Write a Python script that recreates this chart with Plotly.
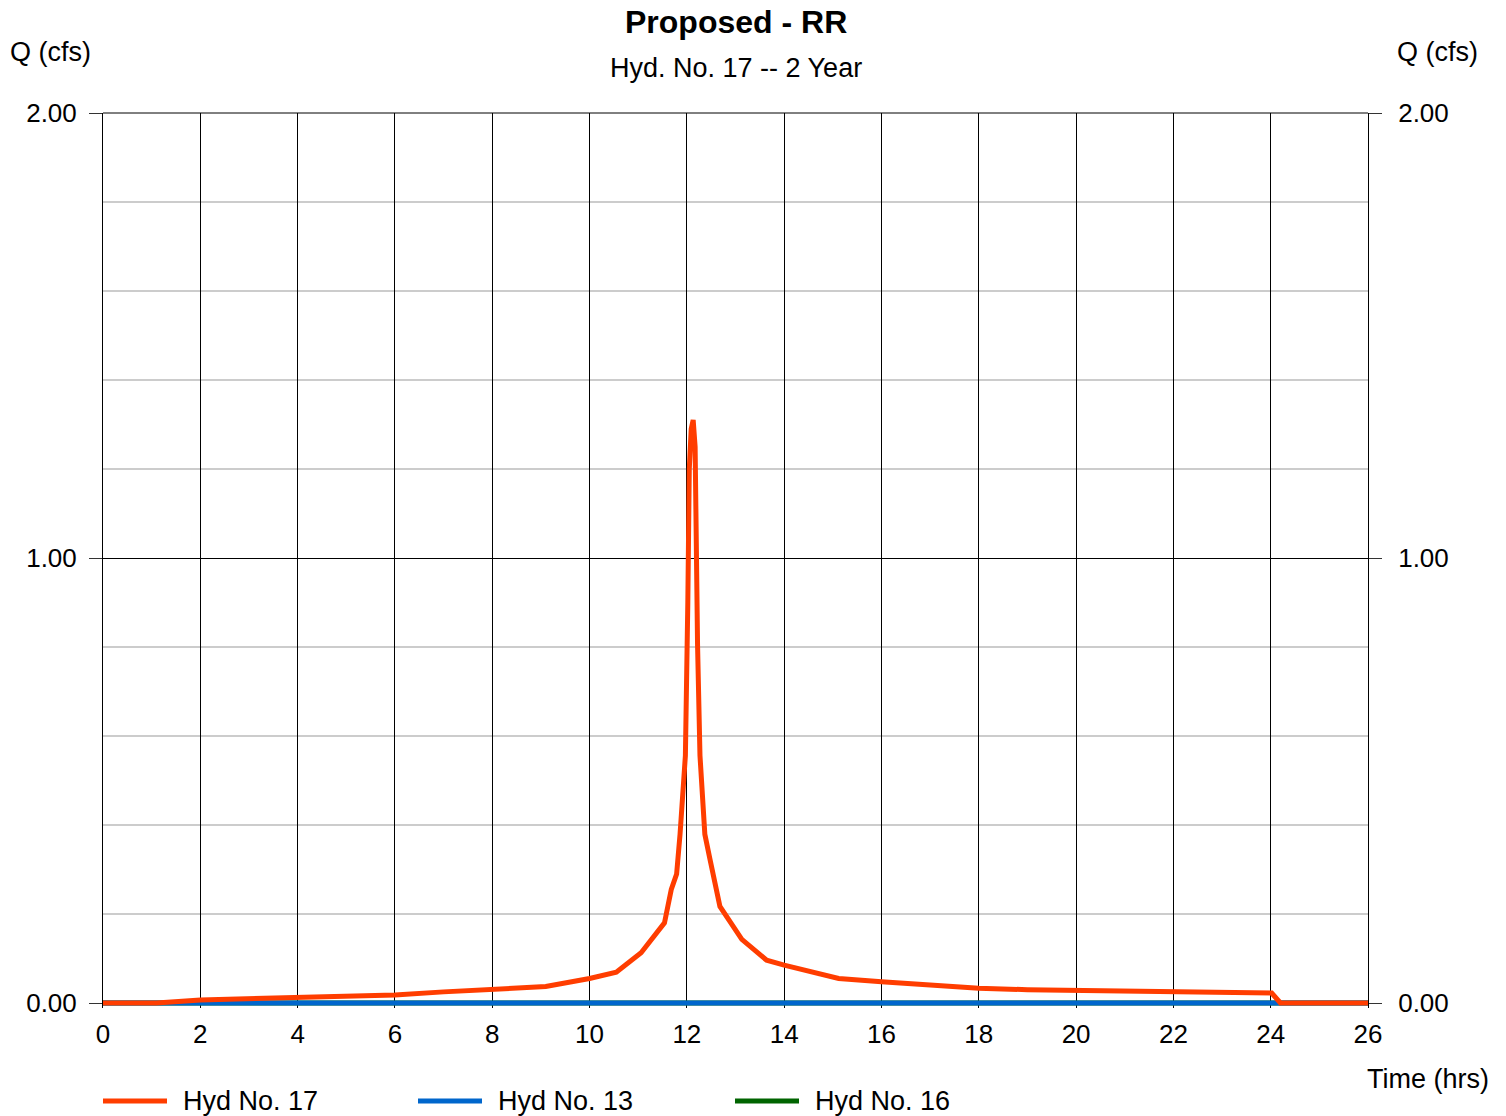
import plotly.graph_objects as go

# hydrograph data (hrs, cfs)
time_hrs = [0, 1.1, 2, 3, 4, 5, 6, 7, 8, 9.1, 10, 10.55, 11.06, 11.54, 11.68, 11.79,
            11.86, 11.97, 12.02, 12.05, 12.09, 12.13, 12.17, 12.19, 12.22, 12.27, 12.37,
            12.47, 12.68, 13.13, 13.64, 14.0, 14.47, 15.12, 16, 17.07, 18, 19, 20, 21,
            22, 23, 24.02, 24.2, 26]
hyd17 = [0, 0, 0.007, 0.010, 0.013, 0.016, 0.018, 0.025, 0.031, 0.037, 0.055, 0.069,
         0.113, 0.18, 0.255, 0.29, 0.379, 0.556, 0.9, 1.2, 1.29, 1.31, 1.25, 1.0, 0.805,
         0.556, 0.379, 0.326, 0.217, 0.143, 0.096, 0.085, 0.072, 0.055, 0.048, 0.039,
         0.033, 0.030, 0.028, 0.027, 0.0255, 0.024, 0.0225, 0, 0]
flat_time = [0, 26]
hyd13 = [0, 0]
hyd16 = [0, 0]

x_ticks = list(range(0, 27, 2))
y_ticks = [0, 1, 2]
y_labels = ["0.00", "1.00", "2.00"]

font = "Liberation Sans, Arial, sans-serif"
orange = "#FF3D00"
blue = "#0066CC"
green = "#006400"

fig = go.Figure()
fig.add_trace(go.Scatter(x=flat_time, y=hyd16, mode="lines", name="Hyd No. 16",
                         line=dict(color=green, width=5), showlegend=False))
fig.add_trace(go.Scatter(x=flat_time, y=hyd13, mode="lines", name="Hyd No. 13",
                         line=dict(color=blue, width=5), yaxis="y2", showlegend=False))
fig.add_trace(go.Scatter(x=time_hrs, y=hyd17, mode="lines", name="Hyd No. 17",
                         line=dict(color=orange, width=5), yaxis="y2", showlegend=False))

W, H = 1506, 1116
# plot bottom is pushed 5px below the zero line so the zero-value lines are not clipped
L, R, T, B = 103, 138, 113, 108
pw, ph = W - L - R, H - T - B
y0_px = 1003
cfs_px = (y0_px - T) / 2.0
y_min = -(H - B - y0_px) / cfs_px


def px(x):
    return (x - L) / pw


def py(y):
    return (H - B - y) / ph


fig.update_layout(
    width=W, height=H,
    margin=dict(l=L, r=R, t=T, b=B),
    paper_bgcolor="white", plot_bgcolor="white",
    font=dict(family=font, size=26, color="black"),
    showlegend=False,
    xaxis=dict(range=[0, 26], tickvals=x_ticks, ticks="", showgrid=True,
               gridcolor="#000000", gridwidth=1, zeroline=False,
               showline=False, ticklabelstandoff=8,
               tickfont=dict(size=26)),
    yaxis=dict(range=[y_min, 2], tickvals=y_ticks, ticktext=y_labels, ticks="outside",
               ticklen=13, tickcolor="#333", showgrid=True, gridcolor="#000000",
               gridwidth=1, zeroline=False, showline=True, linecolor="#000",
               linewidth=1, mirror=False, ticklabelstandoff=7,
               minor=dict(tickvals=[0.2, 0.4, 0.6, 0.8, 1.2, 1.4, 1.6, 1.8],
                          showgrid=True, gridcolor="#cccccc", gridwidth=2, ticks="")),
    yaxis2=dict(range=[y_min, 2], tickvals=y_ticks, ticktext=y_labels, ticks="outside",
                ticklen=13, tickcolor="#333", overlaying="y", side="right",
                showgrid=False, zeroline=False, showline=True, linecolor="#000",
                linewidth=1, ticklabelstandoff=11),
)

# top border
fig.add_shape(type="line", xref="paper", yref="paper", x0=0, x1=1, y0=1, y1=1,
              line=dict(color="#000", width=1), layer="below")

annos = [
    dict(text="<b>Proposed - RR</b>", x=px(736), y=py(22), font=dict(size=32)),
    dict(text="Hyd. No. 17 -- 2 Year", x=px(736), y=py(68), font=dict(size=27)),
    dict(text="Q (cfs)", x=px(50), y=py(52), font=dict(size=27)),
    dict(text="Q (cfs)", x=px(1438), y=py(52), font=dict(size=27)),
    dict(text="Time (hrs)", x=px(1428), y=py(1079), font=dict(size=27)),
]
for a in annos:
    fig.add_annotation(xref="paper", yref="paper", showarrow=False,
                       xanchor="center", yanchor="middle", **a)

# legend drawn by hand to match the wide line swatches
legend = [("Hyd No. 17", orange, 103), ("Hyd No. 13", blue, 418), ("Hyd No. 16", green, 735)]
for name, color, x0 in legend:
    fig.add_shape(type="line", xref="paper", yref="paper", x0=px(x0), x1=px(x0 + 64),
                  y0=py(1101), y1=py(1101), line=dict(color=color, width=5))
    fig.add_annotation(xref="paper", yref="paper", showarrow=False, text=name,
                       x=px(x0 + 78), y=py(1101), xanchor="left", yanchor="middle",
                       font=dict(size=27))

fig.write_html("out.html", config={"displayModeBar": False},
               post_script="document.body.style.margin='0';")
